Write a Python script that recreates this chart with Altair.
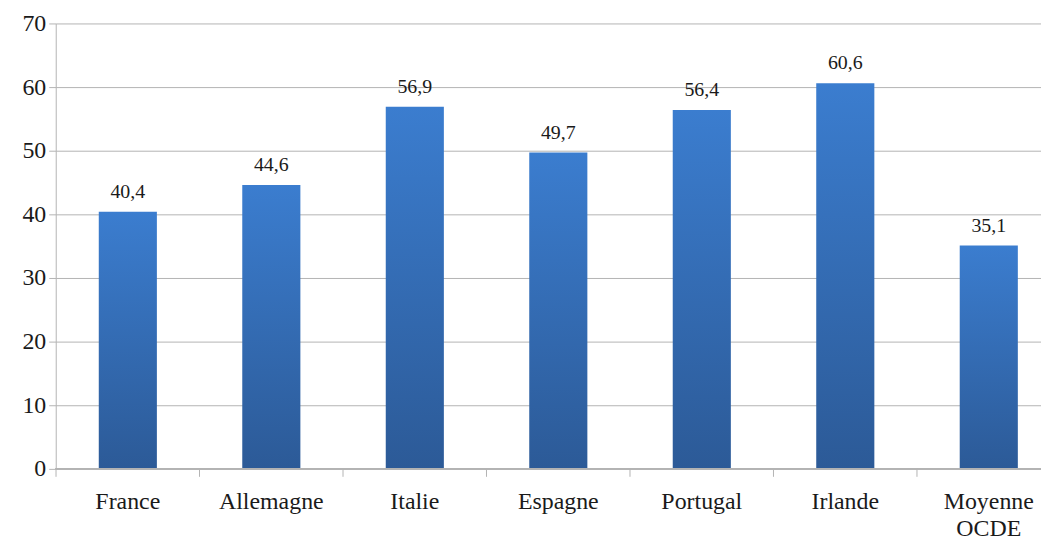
import altair as alt
import pandas as pd

categories = ["France", "Allemagne", "Italie", "Espagne", "Portugal", "Irlande", "Moyenne OCDE"]
values = [40.4, 44.6, 56.9, 49.7, 56.4, 60.6, 35.1]
y_ticks = [0, 10, 20, 30, 40, 50, 60, 70]

df = pd.DataFrame({"pays": categories, "valeur": values})

FONT = "Liberation Serif"
GRID = "#B3B3B3"

xscale = alt.Scale(domain=categories, range=[0, 1011], paddingInner=0.595, paddingOuter=0.3)
yscale = alt.Scale(domain=[0, 70], nice=False)

base = alt.Chart(df)

bars = base.mark_bar(
    color=alt.Gradient(
        gradient="linear",
        x1=0, y1=0, x2=0, y2=1,
        stops=[alt.GradientStop(color="#3B7DCF", offset=0),
               alt.GradientStop(color="#2C5A97", offset=1)],
    )
).encode(
    x=alt.X("pays:N", scale=xscale, sort=categories,
            axis=alt.Axis(title=None, ticks=False, tickSize=0, domain=False,
                          labelAngle=0, labelFont=FONT, labelFontSize=24,
                          labelColor="#1a1a1a", labelPadding=21,
                          labelLineHeight=27, labelBaseline="top",
                          labelExpr="datum.label == 'Moyenne OCDE' ? ['Moyenne', 'OCDE'] : datum.label")),
    y=alt.Y("valeur:Q", scale=yscale,
            axis=alt.Axis(title=None, values=y_ticks, grid=True, gridColor=GRID,
                          domainColor=GRID, tickColor=GRID, tickSize=7,
                          labelFont=FONT, labelFontSize=24, labelColor="#1a1a1a",
                          labelPadding=3)),
)

labels = base.transform_calculate(
    txt="replace(format(datum.valeur, '.1f'), '.', ',')"
).mark_text(font=FONT, fontSize=20, color="#1a1a1a", baseline="bottom", dy=-10).encode(
    x=alt.X("pays:N", scale=xscale, sort=categories),
    y=alt.Y("valeur:Q", scale=yscale),
    text="txt:N",
)

xbase = base.mark_rule(color=GRID, strokeWidth=1.5).encode(
    x=alt.value(0), x2=alt.value(991), y=alt.value(448)
)

ticks = base.mark_rule(color=GRID, strokeWidth=1, xOffset=-43).encode(
    x=alt.X("pays:N", scale=xscale, sort=categories, bandPosition=0),
    y=alt.value(448),
    y2=alt.value(456),
)

chart = alt.layer(bars, xbase, ticks, labels).properties(
    width=991, height=448,
    autosize=alt.AutoSizeParams(type="none"),
    padding={"left": 48, "top": 14, "right": 0, "bottom": 70},
).configure_view(stroke=None).configure_axis(domainWidth=1)

chart.save("out.html", embed_options={"renderer": "svg", "actions": False})
